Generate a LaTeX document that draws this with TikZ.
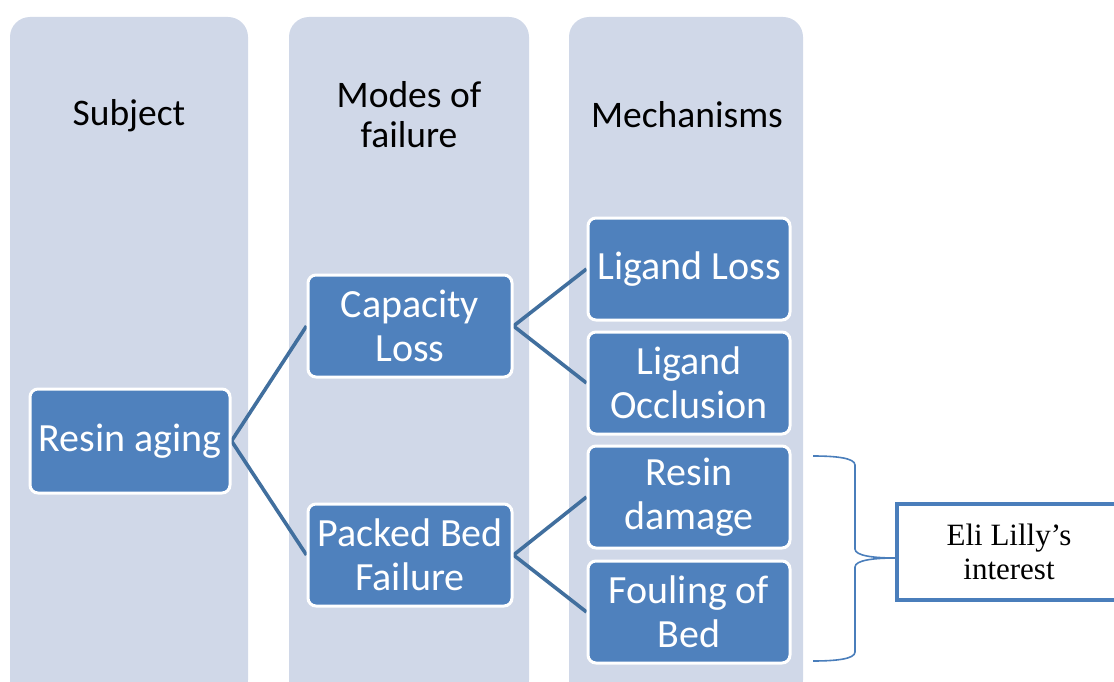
\documentclass[tikz,border=0pt]{standalone}
\usepackage{fontspec}
\setmainfont{Carlito}
\newfontfamily\serifface{Liberation Serif}
\definecolor{colbg}{RGB}{208,216,232}
\definecolor{boxfill}{RGB}{79,129,189}
\definecolor{connc}{RGB}{65,111,158}
\definecolor{bracec}{RGB}{74,126,187}
\pgfdeclarelayer{bg}
\pgfsetlayers{bg,main}
\tikzset{
  column/.style={fill=colbg, draw=none, rounded corners=20pt},
  title/.style={text=black, font=\fontsize{37.5}{40}\selectfont, align=center},
  itembox/.style={fill=boxfill, draw=white, line width=3pt, rounded corners=8pt,
    text=white, font=\fontsize{40}{44}\selectfont, align=center,
    minimum width=204pt, minimum height=102pt, inner sep=0pt},
  conn/.style={draw=connc, line width=3.6pt},
  bracel/.style={draw=bracec, line width=1.6pt},
  notebox/.style={draw=bracec, line width=3.5pt, fill=white, minimum width=224pt,
    minimum height=96pt, inner sep=0pt, align=center,
    font=\serifface\fontsize{31}{34}\selectfont}
}
\begin{document}
\begin{tikzpicture}[x=1pt,y=-1pt]
\useasboundingbox (0,0) rectangle (1114,682);
\clip (0,0) rectangle (1114,682);
% column headings
\node[title] (t1) at (129,116) {Subject};
\node[title] (t2) at (409,115) {Modes of\\failure};
\node[title] (t3) at (687,115) {Mechanisms};
% boxes
\node[itembox, minimum width=200pt, minimum height=104pt] (aging) at (130,441) {Resin aging};
\node[itembox] (cap) at (410,326) {Capacity\\Loss};
\node[itembox] (packed) at (410,555) {Packed Bed\\Failure};
\node[itembox, minimum width=202pt] (ll) at (689,269) {Ligand Loss};
\node[itembox, minimum width=202pt] (lo) at (689,383) {Ligand\\Occlusion};
\node[itembox, minimum width=202pt] (rd) at (689,497) {Resin\\damage};
\node[itembox, minimum width=202pt] (fb) at (689,612) {Fouling of\\Bed};
% note box
\node[notebox] (lilly) at (1009,552) {Eli Lilly’s\\interest};
\begin{pgfonlayer}{bg}
  \path[column] (10,17) rectangle (248,700);
  \path[column] (289,17) rectangle (529,700);
  \path[column] (569,17) rectangle (803,700);
  \draw[conn] (aging.east) -- (cap.west);
  \draw[conn] (aging.east) -- (packed.west);
  \draw[conn] (cap.east) -- (ll.west);
  \draw[conn] (cap.east) -- (lo.west);
  \draw[conn] (packed.east) -- (rd.west);
  \draw[conn] (packed.east) -- (fb.west);
\end{pgfonlayer}
% brace
\coordinate (btop) at (813,456);
\coordinate (bbot) at (813,661);
\coordinate (tip) at (lilly.west |- 0,558);
\draw[bracel] (btop) .. controls (836,456) and (855,458) .. (855,465)
  -- (855,549) .. controls (855,556) and (875,558) .. (tip)
  .. controls (875,558) and (855,560) .. (855,567)
  -- (855,652) .. controls (855,659) and (836,661) .. (bbot);
\end{tikzpicture}
\end{document}
